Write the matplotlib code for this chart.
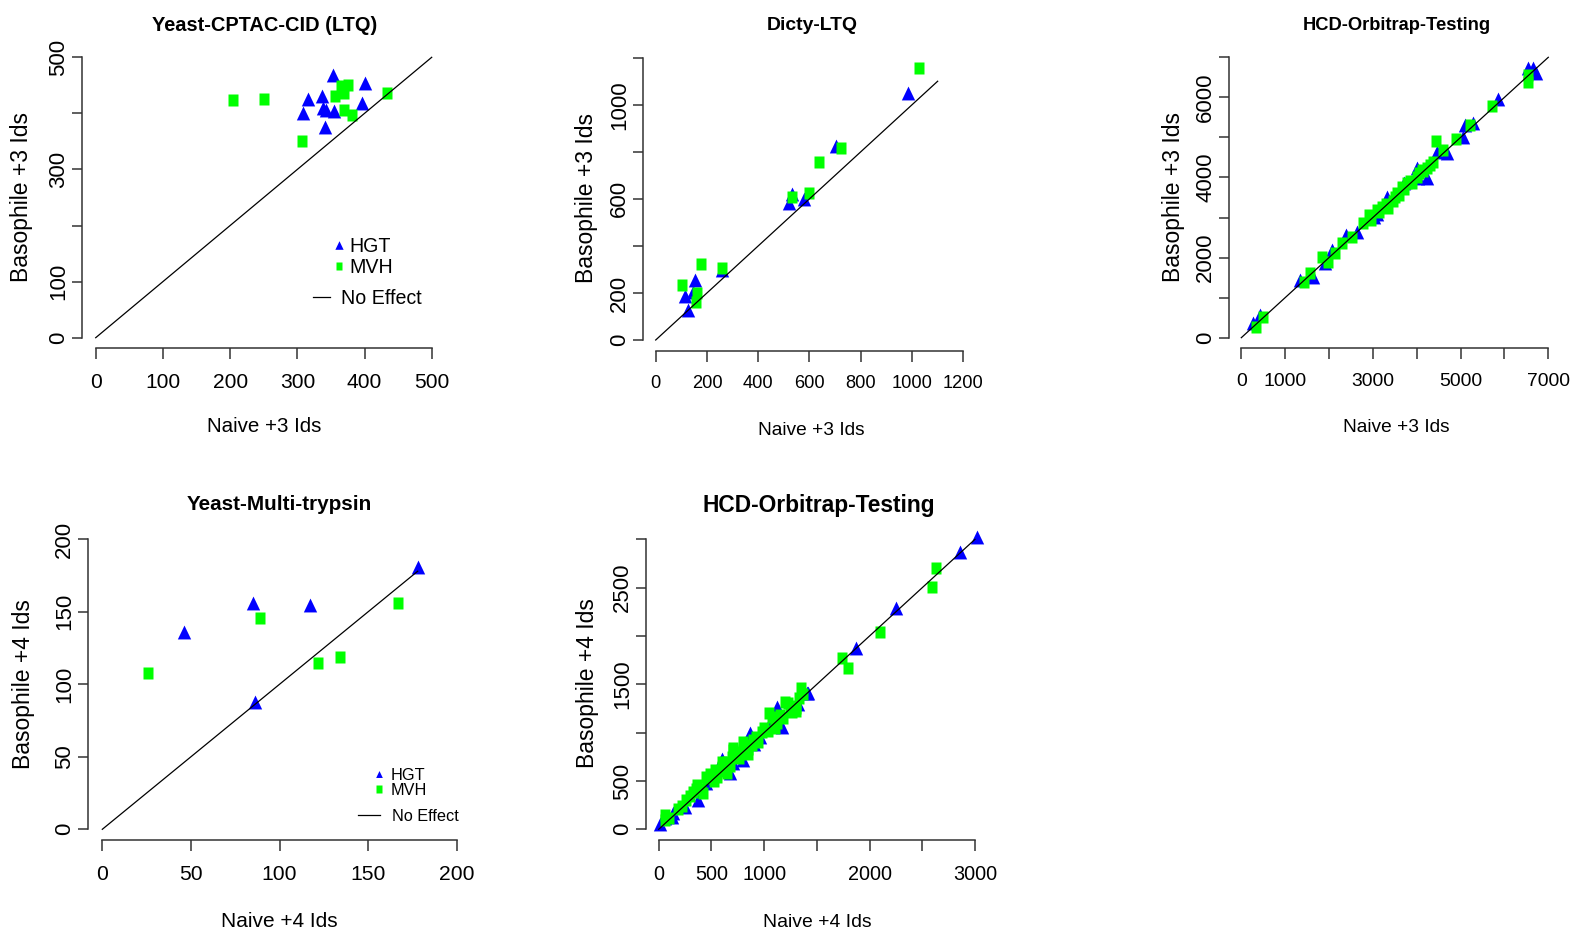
import matplotlib
matplotlib.use("Agg")
import matplotlib.pyplot as plt
from matplotlib.lines import Line2D

W, H = 1574, 932
DPI = 100
plt.rcParams['font.family'] = ['Liberation Sans', 'DejaVu Sans']

BLUE = '#0000FF'
GREEN = '#00FF00'
AXC = '#333333'
K = 1.06  # text size factor

# ---------------- data ----------------
series_labels = ['HGT', 'MVH']
line_label = 'No Effect'

# Panel 1: Yeast-CPTAC-CID (LTQ), +3 Ids
p1_hgt_naive = [353, 401, 316, 337, 309, 338, 354, 396, 341, 343]
p1_hgt_baso = [468, 454, 425, 431, 401, 409, 404, 419, 375, 406]
p1_mvh_naive = [204, 250, 307, 434, 365, 376, 356, 369, 369, 382]
p1_mvh_baso = [424, 426, 351, 437, 448, 451, 431, 437, 406, 397]
p1_line = [0, 500]

# Panel 2: Dicty-LTQ, +3 Ids
p2_hgt_naive = [985, 703, 521, 580, 257, 153, 115, 125, 147, 532]
p2_hgt_baso = [1051, 824, 583, 598, 297, 255, 187, 128, 205, 620]
p2_mvh_naive = [1028, 722, 637, 530, 598, 257, 177, 101, 162, 156]
p2_mvh_baso = [1157, 817, 758, 609, 623, 305, 323, 233, 201, 163]
p2_line = [0, 1100]

# Panel 3: HCD-Orbitrap-Testing, +3 Ids
p3_hgt_naive = [274, 426, 1338, 1628, 1908, 2061, 2387, 2631, 3026, 3100, 3315, 3700,
                4036, 3999, 4230, 4455, 4683, 5062, 5100, 5276, 5846, 6530, 6644, 6720]
p3_hgt_baso = [359, 567, 1440, 1523, 1857, 2189, 2564, 2646, 3021, 3090, 3520, 3850,
               3979, 4228, 3980, 4643, 4603, 5018, 5310, 5352, 5951, 6725, 6725, 6600]
p3_mvh_naive = [328, 502, 1430, 1566, 1833, 1984, 2136, 2289, 2517, 2782, 2918, 3087, 3201, 3352,
                3504, 3657, 3771, 3999, 4113, 4227, 4377, 4440, 4606, 4895, 5214, 5723, 6530, 6530,
                2950, 3150, 3300, 3450, 3550, 3600, 3700, 3850, 3900, 4050, 4150, 4300]
p3_mvh_baso = [275, 524, 1398, 1623, 2022, 1897, 2107, 2356, 2521, 2854, 3063, 3188, 3270, 3229,
               3520, 3770, 3854, 4019, 4186, 4228, 4394, 4918, 4686, 4953, 5310, 5784, 6391, 6557,
               2950, 3150, 3350, 3420, 3600, 3560, 3700, 3900, 3850, 4100, 4150, 4300]
p3_line = [0, 7000]

# Panel 4: Yeast-Multi-trypsin, +4 Ids
p4_hgt_naive = [178, 85, 117, 46, 86]
p4_hgt_baso = [181, 156, 155, 136, 88]
p4_mvh_naive = [26, 89, 122, 134, 167]
p4_mvh_baso = [108, 146, 115, 119, 156]
p4_line = [0, 178]

# Panel 5: HCD-Orbitrap-Testing, +4 Ids
p5_hgt_naive = [3022, 2858, 2248, 1868, 1404, 60, 123, 10, 138, 802, 676, 1119, 961, 1166,
                1419, 866, 597, 376, 250, 450, 700, 900, 1050, 1250, 1320]
p5_hgt_baso = [3021, 2872, 2286, 1872, 1407, 114, 131, 60, 166, 717, 586, 1268, 958, 1061,
               1407, 993, 724, 303, 230, 480, 690, 880, 1080, 1230, 1300]
p5_mvh_naive = [2630, 2595, 2099, 1741, 1798, 1347, 60, 180, 60, 328, 360, 455, 534, 550,
                707, 692, 787, 882, 977, 1072, 1119, 1229, 1261, 1370, 898, 487, 300,
                100, 220, 260, 400, 420, 500, 520, 600, 620, 650, 680, 740, 760, 820, 850,
                920, 940, 1000, 1040, 1100, 1150, 1180, 1250, 1300, 1330,
                600, 700, 800, 1050, 1200, 650, 850, 1100, 1300, 450, 350]
p5_mvh_baso = [2700, 2503, 2044, 1775, 1672, 1458, 148, 210, 96, 389, 458, 527, 613, 544,
               838, 751, 786, 872, 1010, 1165, 1097, 1303, 1217, 1400, 920, 570, 340,
               120, 240, 300, 420, 380, 560, 500, 640, 600, 700, 660, 800, 740, 860, 830,
               960, 900, 1050, 1020, 1130, 1180, 1150, 1280, 1250, 1360,
               700, 820, 900, 1200, 1320, 580, 780, 1050, 1220, 540, 420]
p5_line = [0, 3000]

# tick values / labels
p1_xticks = [0, 100, 200, 300, 400, 500]
p1_xlabels = ['0', '100', '200', '300', '400', '500']
p1_yticks = [0, 100, 200, 300, 400, 500]
p1_ylabels = ['0', '100', '', '300', '', '500']

p2_xticks = [0, 200, 400, 600, 800, 1000, 1200]
p2_xlabels = ['0', '200', '400', '600', '800', '1000', '1200']
p2_yticks = [0, 200, 400, 600, 800, 1000, 1200]
p2_ylabels = ['0', '200', '', '600', '', '1000', '']

p3_xticks = [0, 1000, 2000, 3000, 4000, 5000, 6000, 7000]
p3_xlabels = ['0', '1000', '', '3000', '', '5000', '', '7000']
p3_yticks = [0, 1000, 2000, 3000, 4000, 5000, 6000, 7000]
p3_ylabels = ['0', '', '2000', '', '4000', '', '6000', '']

p4_xticks = [0, 50, 100, 150, 200]
p4_xlabels = ['0', '50', '100', '150', '200']
p4_yticks = [0, 50, 100, 150, 200]
p4_ylabels = ['0', '50', '100', '150', '200']

p5_xticks = [0, 500, 1000, 1500, 2000, 2500, 3000]
p5_xlabels = ['0', '500', '1000', '', '2000', '', '3000']
p5_yticks = [0, 500, 1000, 1500, 2000, 2500, 3000]
p5_ylabels = ['0', '500', '', '1500', '', '2500', '']

# ---------------- drawing ----------------
TRI = [(0, 0.5), (-0.48, -0.5), (0.48, -0.5)]
SQ = [(-0.41, -0.5), (0.41, -0.5), (0.41, 0.5), (-0.41, 0.5)]

fig = plt.figure(figsize=(W / DPI, H / DPI), dpi=DPI)
fig.patch.set_facecolor('white')


def fpos(x, y):
    return (x / W, 1 - y / H)


def make_ax(xcal, ycal, left, right, top, bottom):
    v0, p0, v1, p1 = xcal
    bx = (p1 - p0) / (v1 - v0)
    xlo = v0 + (left - p0) / bx
    xhi = v0 + (right - p0) / bx
    v0, p0, v1, p1 = ycal
    by = (p1 - p0) / (v1 - v0)
    ylo = v0 + (bottom - p0) / by
    yhi = v0 + (top - p0) / by
    ax = fig.add_axes([left / W, 1 - bottom / H, (right - left) / W, (bottom - top) / H])
    ax.set_xlim(xlo, xhi)
    ax.set_ylim(ylo, yhi)
    ax.patch.set_alpha(0)
    return ax


def panel(ax, hx, hy, mx, my, line, xt, xl, yt, yl, xfs, yfs=16):
    ax.plot(hx, hy, ls='none', marker=TRI, ms=10, mfc=BLUE, mec='none', clip_on=False)
    ax.plot(mx, my, ls='none', marker=SQ, ms=8.3, mfc=GREEN, mec='none', clip_on=False)
    ax.plot(line, line, color='black', lw=0.9)
    for s in ('top', 'right'):
        ax.spines[s].set_visible(False)
    for s in ('left', 'bottom'):
        ax.spines[s].set_color(AXC)
        ax.spines[s].set_linewidth(1.1)
    ax.spines['bottom'].set_bounds(xt[0], xt[-1])
    ax.spines['left'].set_bounds(yt[0], yt[-1])
    ax.set_xticks(xt)
    ax.set_xticklabels(xl)
    ax.set_yticks(yt)
    ax.set_yticklabels(yl, rotation=90, va='center')
    ax.tick_params(axis='x', length=8, width=1.1, color=AXC, labelsize=xfs * K, pad=9.5)
    ax.tick_params(axis='y', length=7, width=1.1, color=AXC, labelsize=yfs, pad=2.5)


def legends(ax, fs, ms_t, ms_s, anchorA, hlA, textpadA, spacing, anchorB, hlB, textpadB):
    h_tri = Line2D([], [], ls='none', marker=TRI, ms=ms_t, mfc=BLUE, mec='none')
    h_sq = Line2D([], [], ls='none', marker=SQ, ms=ms_s, mfc=GREEN, mec='none')
    legA = ax.legend([h_tri, h_sq], series_labels, loc='upper left',
                     bbox_to_anchor=fpos(*anchorA), bbox_transform=fig.transFigure,
                     frameon=False, fontsize=fs, handlelength=hlA, handletextpad=textpadA,
                     labelspacing=spacing, borderpad=0, borderaxespad=0)
    ax.add_artist(legA)
    h_line = Line2D([], [], color='black', lw=0.9)
    ax.legend([h_line], [line_label], loc='upper left',
              bbox_to_anchor=fpos(*anchorB), bbox_transform=fig.transFigure,
              frameon=False, fontsize=fs, handlelength=hlB, handletextpad=textpadB,
              borderpad=0, borderaxespad=0)


# Panel 1
ax1 = make_ax((0, 95.7, 500, 431.7), (0, 337.7, 500, 57.3), 82.3, 445, 46, 348.5)
panel(ax1, p1_hgt_naive, p1_hgt_baso, p1_mvh_naive, p1_mvh_baso, p1_line,
      p1_xticks, p1_xlabels, p1_yticks, p1_ylabels, 14.3)
legends(ax1, 13.3 * K, 6.2, 6.0, (331.6, 237), 0.75, 0.17, 0.12, (313, 289), 0.86, 0.55)

# Panel 2
ax2 = make_ax((0, 655.7, 1200, 963.3), (0, 340, 1200, 57.7), 643, 986, 53, 351)
panel(ax2, p2_hgt_naive, p2_hgt_baso, p2_mvh_naive, p2_mvh_baso, p2_line,
      p2_xticks, p2_xlabels, p2_yticks, p2_ylabels, 12.4)

# Panel 3
ax3 = make_ax((0, 1241.3, 7000, 1548.3), (0, 337.7, 7000, 57.3), 1229.3, 1556, 50, 348.3)
panel(ax3, p3_hgt_naive, p3_hgt_baso, p3_mvh_naive, p3_mvh_baso, p3_line,
      p3_xticks, p3_xlabels, p3_yticks, p3_ylabels, 13.2)

# Panel 4
ax4 = make_ax((0, 102.3, 200, 456.7), (0, 829.3, 200, 539.3), 88, 472, 535, 840.3)
panel(ax4, p4_hgt_naive, p4_hgt_baso, p4_mvh_naive, p4_mvh_baso, p4_line,
      p4_xticks, p4_xlabels, p4_yticks, p4_ylabels, 14.4)
legends(ax4, 11 * K, 5.0, 5.2, (373, 768), 0.75, 0.36, 0.0, (358, 809), 1.36, 0.74)

# Panel 5
ax5 = make_ax((0, 658.7, 3000, 975), (0, 829.3, 3000, 539.3), 646, 990, 535, 840.3)
panel(ax5, p5_hgt_naive, p5_hgt_baso, p5_mvh_naive, p5_mvh_baso, p5_line,
      p5_xticks, p5_xlabels, p5_yticks, p5_ylabels, 13.5)

# Titles
titles = [('Yeast-CPTAC-CID (LTQ)', 264.5, 30.7, 13.6),
          ('Dicty-LTQ', 812.5, 30, 13.2),
          ('HCD-Orbitrap-Testing', 1396.7, 30, 12.5),
          ('Yeast-Multi-trypsin', 279.5, 510, 14),
          ('HCD-Orbitrap-Testing', 819, 511.7, 15.5)]
for t, x, y, fs in titles:
    fig.text(*fpos(x, y), t, ha='center', va='baseline', fontsize=fs * K, fontweight='bold')

# Axis labels
xlabels = [('Naive +3 Ids', 264.5, 431.7, 13.9), ('Naive +3 Ids', 811, 435, 13),
           ('Naive +3 Ids', 1396, 431.7, 13), ('Naive +4 Ids', 279, 926.7, 14.2),
           ('Naive +4 Ids', 817, 926.7, 13.2)]
for t, x, y, fs in xlabels:
    fig.text(*fpos(x, y), t, ha='center', va='baseline', fontsize=fs * K)

ylabels = [('Basophile +3 Ids', 22, 196.7), ('Basophile +3 Ids', 586.7, 198.3),
           ('Basophile +3 Ids', 1173.3, 197.5), ('Basophile +4 Ids', 24, 684),
           ('Basophile +4 Ids', 587.3, 683)]
for t, x, y in ylabels:
    fig.text(*fpos(x, y), t, ha='center', va='center', rotation=90, fontsize=16.5)

fig.savefig('out.png', dpi=DPI, facecolor='white')
